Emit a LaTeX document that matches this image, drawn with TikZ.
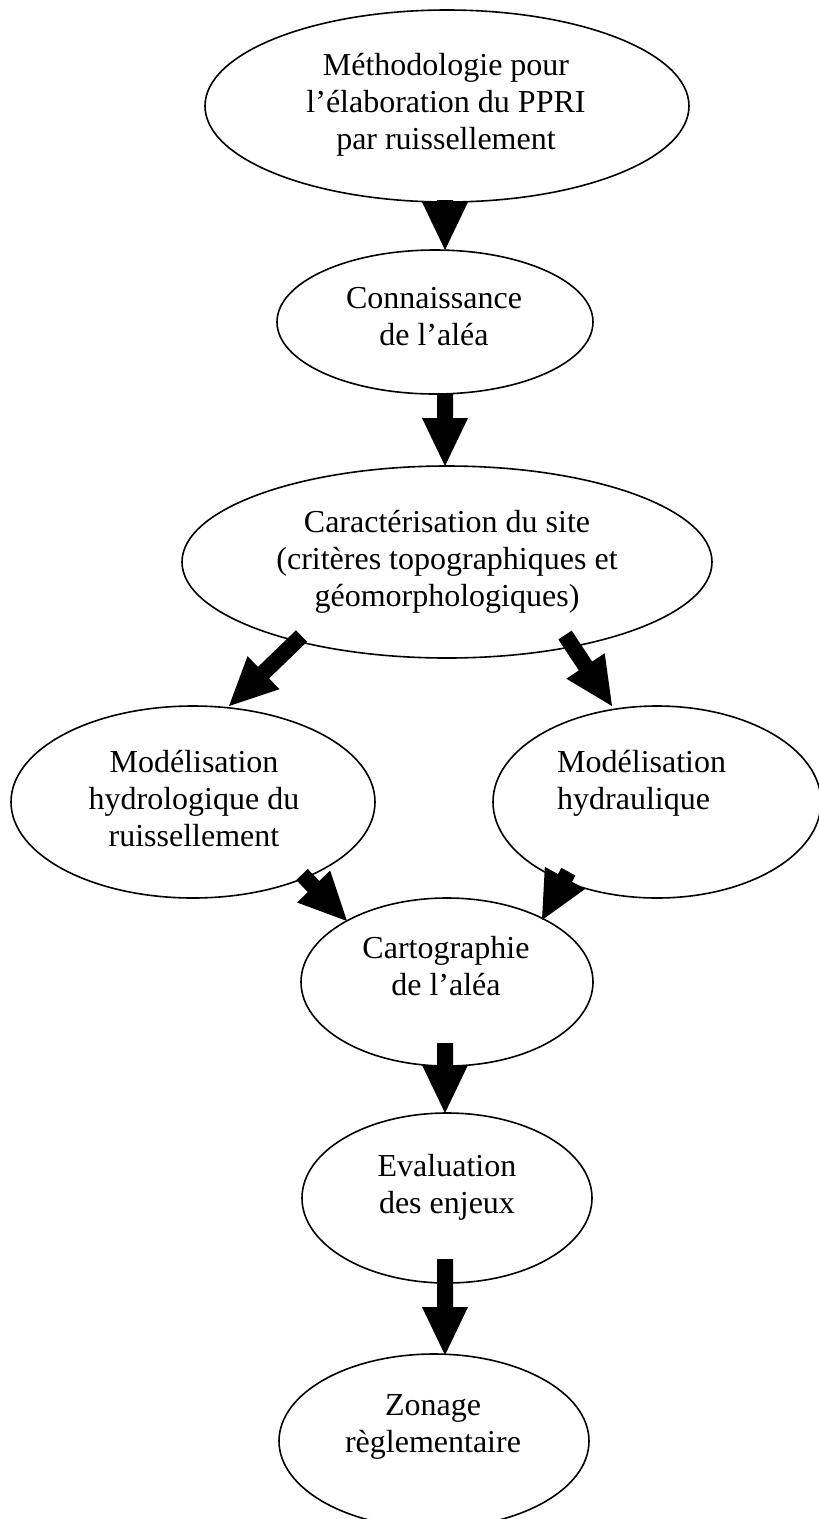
\documentclass[tikz,border=0pt]{standalone}
\usepackage{fontspec}
\setmainfont{Liberation Serif}
\usetikzlibrary{calc,shapes.geometric}

\tikzset{
  bubble/.style={ellipse, draw=black, line width=1.6pt, fill=white,
                 inner sep=0pt, outer sep=0pt},
  bubbletext/.style={font=\fontsize{32}{37}\selectfont, inner sep=0pt},
  arrowfill/.style={fill=black},
}

% Block arrow from coordinate #1 (tail) to coordinate #2 (tip):
% shaft 16pt wide, head 46pt wide and 48pt long.
\newcommand\blockarrow[2]{%
  \coordinate (#1-b) at ($(#2)!48pt!(#1)$);
  \fill[arrowfill]
    ($(#1)!8pt!90:(#2)$) -- ($(#1-b)!8pt!90:(#2)$) --
    ($(#1-b)!23pt!90:(#2)$) -- (#2) -- ($(#1-b)!23pt!-90:(#2)$) --
    ($(#1-b)!8pt!-90:(#2)$) -- ($(#1)!8pt!-90:(#2)$) -- cycle;}

\begin{document}
\begin{tikzpicture}[x=1pt,y=-1pt]
\fill[white] (0,0) rectangle (819,1519);
\useasboundingbox (0,0) rectangle (819,1519);
\clip (0,0) rectangle (819,1519);

% ellipses
\node[bubble, minimum width=484pt, minimum height=192pt] (e1) at (447,106) {};
\node[bubble, minimum width=316pt, minimum height=144pt] (e2) at (435,322) {};
\node[bubble, minimum width=530pt, minimum height=192pt] (e3) at (447,562) {};
\node[bubble, minimum width=364pt, minimum height=192pt] (e4) at (193,802) {};
\node[bubble, minimum width=328pt, minimum height=192pt] (e5) at (657,802) {};
\node[bubble, minimum width=292pt, minimum height=168pt] (e6) at (447,982) {};
\node[bubble, minimum width=290pt, minimum height=170pt] (e7) at (447,1198) {};
\node[bubble, minimum width=310pt, minimum height=174pt] (e8) at (434,1441) {};

% texts
\node[bubbletext, anchor=base] (t1) at (446,75)
  {\begin{tabular}[t]{@{}c@{}}Méthodologie pour\\l’élaboration du PPRI\\par ruissellement\end{tabular}};
\node[bubbletext, anchor=base] (t2) at (434,308)
  {\begin{tabular}[t]{@{}c@{}}Connaissance\\de l’aléa\end{tabular}};
\node[bubbletext, anchor=base] (t3) at (447,532)
  {\begin{tabular}[t]{@{}c@{}}Caractérisation du site\\(critères topographiques et\\géomorphologiques)\end{tabular}};
\node[bubbletext, anchor=base] (t4) at (194,772)
  {\begin{tabular}[t]{@{}c@{}}Modélisation\\hydrologique du\\ruissellement\end{tabular}};
\node[bubbletext, anchor=base west] (t5) at (557,772)
  {\begin{tabular}[t]{@{}l@{}}Modélisation\\hydraulique\end{tabular}};
\node[bubbletext, anchor=base] (t6) at (446,958)
  {\begin{tabular}[t]{@{}c@{}}Cartographie\\de l’aléa\end{tabular}};
\node[bubbletext, anchor=base] (t7) at (447,1176)
  {\begin{tabular}[t]{@{}c@{}}Evaluation\\des enjeux\end{tabular}};
\node[bubbletext, anchor=base] (t8) at (433,1415)
  {\begin{tabular}[t]{@{}c@{}}Zonage\\règlementaire\end{tabular}};

% arrow ends
\coordinate (a12) at (445,200);   \coordinate (a12t) at (445,250);
\coordinate (a23) at (445,394);   \coordinate (a23t) at (445,466);
\coordinate (a34) at (301.5,636); \coordinate (a34t) at (229,706);
\coordinate (a35) at (565,635);   \coordinate (a35t) at (612,706);
\coordinate (a46) at (302,874.5); \coordinate (a46t) at (347,921);
\coordinate (a56) at (568.4,871.7); \coordinate (a56t) at (542,920);
\coordinate (a67) at (445,1043);  \coordinate (a67t) at (445,1113);
\coordinate (a78) at (445,1259);  \coordinate (a78t) at (445,1355);

\blockarrow{a12}{a12t}
\blockarrow{a23}{a23t}
\blockarrow{a34}{a34t}
\blockarrow{a35}{a35t}
\blockarrow{a46}{a46t}
\blockarrow{a56}{a56t}
\blockarrow{a67}{a67t}
\blockarrow{a78}{a78t}
\end{tikzpicture}
\end{document}
